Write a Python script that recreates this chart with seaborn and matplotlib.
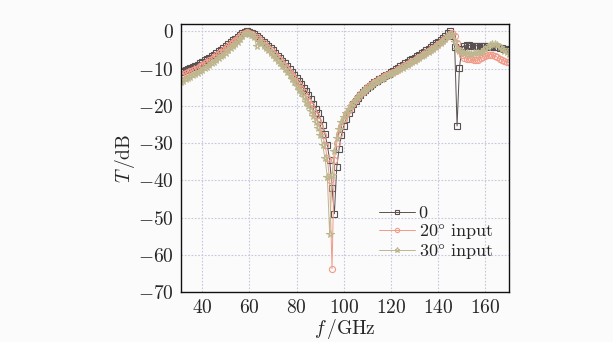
import matplotlib
matplotlib.use("Agg")
import matplotlib.pyplot as plt
import seaborn as sns
import numpy as np
from matplotlib.ticker import MultipleLocator

# frequency axis, GHz (1 GHz step)
freq = list(range(31, 171))

# T (dB) for normal incidence
t_0 = [
    -11.0, -10.7, -10.4, -10.1, -9.8, -9.5, -9.2, -8.9, -8.6, -8.2,
    -7.8, -7.4, -7.0, -6.6, -6.2, -5.8, -5.3, -4.9, -4.4, -3.9,
    -3.4, -2.9, -2.4, -1.9, -1.4, -0.9, -0.5, -0.2, 0.0, -0.1,
    -0.4, -0.8, -1.3, -1.8, -2.3, -2.8, -3.3, -3.9, -4.5, -5.1,
    -5.8, -6.5, -7.2, -7.9, -8.6, -9.3, -10.0, -10.8, -11.6, -12.4,
    -13.3, -14.2, -15.1, -16.1, -17.1, -18.2, -19.4, -20.7, -22.0, -23.4,
    -25.0, -27.5, -30.5, -34.5, -42.0, -49.0, -36.5, -31.5, -27.8, -25.3,
    -23.4, -21.9, -20.7, -19.6, -18.7, -17.9, -17.1, -16.4, -15.8, -15.2,
    -14.6, -14.1, -13.6, -13.2, -12.8, -12.4, -12.0, -11.6, -11.3, -10.9,
    -10.5, -10.2, -9.8, -9.4, -9.0, -8.6, -8.2, -7.8, -7.4, -7.0,
    -6.6, -6.2, -5.8, -5.4, -5.0, -4.6, -4.2, -3.7, -3.2, -2.7,
    -2.2, -1.7, -1.1, -0.5, 0.0, -1.2, -4.2, -25.4, -9.8, -4.6,
    -3.8, -3.7, -3.7, -3.8, -3.8, -3.8, -3.9, -3.9, -3.9, -4.0,
    -4.0, -4.1, -4.1, -4.2, -4.3, -4.4, -4.5, -4.6, -4.8, -5.0,
]

# T (dB) for 20 deg incidence
t_20 = [
    -11.8, -11.5, -11.2, -10.9, -10.6, -10.3, -10.0, -9.7, -9.3, -8.9,
    -8.5, -8.1, -7.7, -7.3, -6.8, -6.4, -5.9, -5.4, -4.9, -4.4,
    -3.9, -3.4, -2.8, -2.3, -1.8, -1.2, -0.7, -0.3, -0.1, -0.3,
    -0.7, -1.1, -1.6, -2.1, -2.7, -3.2, -3.8, -4.4, -5.0, -5.7,
    -6.4, -7.1, -7.8, -8.6, -9.3, -10.1, -10.9, -11.7, -12.6, -13.5,
    -14.4, -15.4, -16.4, -17.5, -18.6, -19.8, -21.1, -22.5, -24.0, -25.7,
    -27.8, -30.5, -34.0, -40.0, -63.7, -34.5, -30.0, -27.5, -25.3, -23.6,
    -22.2, -21.0, -20.0, -19.1, -18.3, -17.5, -16.8, -16.2, -15.6, -15.0,
    -14.5, -14.0, -13.6, -13.2, -12.8, -12.4, -12.1, -11.7, -11.4, -11.1,
    -10.8, -10.5, -10.1, -9.8, -9.4, -9.1, -8.7, -8.3, -7.9, -7.6,
    -7.2, -6.8, -6.4, -6.0, -5.6, -5.2, -4.8, -4.4, -3.9, -3.4,
    -2.9, -2.3, -1.8, -1.2, -0.6, -0.3, -1.2, -3.2, -5.0, -6.2,
    -7.0, -7.3, -7.3, -7.4, -7.6, -7.8, -7.6, -7.2, -6.8, -6.5,
    -6.3, -6.2, -6.3, -6.5, -6.9, -7.3, -7.6, -7.9, -8.1, -8.3,
]

# T (dB) for 30 deg incidence
t_30 = [
    -13.5, -13.2, -12.9, -12.5, -12.2, -11.8, -11.5, -11.1, -10.7, -10.3,
    -9.9, -9.5, -9.1, -8.6, -8.2, -7.7, -7.2, -6.7, -6.2, -5.7,
    -5.1, -4.5, -3.9, -3.3, -2.7, -2.0, -1.3, -0.7, -0.4, -0.6,
    -1.0, -1.5, -4.0, -2.6, -3.2, -3.8, -4.4, -5.0, -5.7, -6.4,
    -7.1, -7.9, -8.6, -9.4, -10.2, -11.0, -11.8, -12.7, -13.6, -14.6,
    -15.6, -16.6, -17.7, -18.9, -20.1, -21.4, -22.8, -24.3, -26.0, -27.8,
    -30.5, -34.0, -39.0, -54.5, -38.5, -32.0, -28.5, -26.2, -24.4, -23.0,
    -21.8, -20.8, -19.9, -19.1, -18.3, -17.6, -17.0, -16.4, -15.8, -15.3,
    -14.8, -14.3, -13.9, -13.5, -13.1, -12.7, -12.4, -12.0, -11.7, -11.4,
    -11.1, -10.7, -10.4, -10.1, -9.7, -9.4, -9.0, -8.6, -8.3, -7.9,
    -7.5, -7.1, -6.7, -6.3, -5.9, -5.5, -5.1, -4.6, -4.1, -3.6,
    -3.1, -2.5, -1.9, -1.3, -0.7, -1.0, -2.8, -4.6, -5.3, -5.6,
    -5.8, -5.9, -6.0, -6.0, -5.9, -5.8, -5.7, -5.5, -5.2, -4.8,
    -4.2, -3.6, -3.3, -3.3, -3.7, -4.2, -4.7, -5.2, -5.6, -6.0,
]

labels = ["0", r"20$\degree$ input", r"30$\degree$ input"]
series = [t_0, t_20, t_30]
colors = ["#5a5050", "#f29a88", "#bdb68e"]
markers = ["s", "o", "*"]
msizes = [4.2, 4.4, 5.4]

sns.set_style("white")
plt.rcParams["font.family"] = "serif"
plt.rcParams["font.serif"] = ["cmr10", "DejaVu Serif"]
plt.rcParams["mathtext.fontset"] = "cm"
plt.rcParams["axes.formatter.use_mathtext"] = True
plt.rcParams["axes.unicode_minus"] = True
plt.rcParams["font.size"] = 14

fig = plt.figure(figsize=(6.13, 3.42), dpi=100, facecolor="#fbfbfb")
ax = fig.add_axes([0.2953, 0.1462, 0.5350, 0.7836])
ax.set_facecolor("#fbfbfb")

for lab, vals, col, mk, ms in zip(labels, series, colors, markers, msizes):
    sns.lineplot(x=freq, y=vals, ax=ax, color=col, marker=mk, markersize=ms,
                 markerfacecolor="none", markeredgecolor=col, markeredgewidth=0.8,
                 linewidth=0.7, label=lab, sort=False)

ax.set_xlim(31, 170)
ax.set_ylim(-70, 2)
ax.set_xticks([40, 60, 80, 100, 120, 140, 160])
ax.set_yticks(np.arange(-70, 1, 10))
ax.xaxis.set_minor_locator(MultipleLocator(10))
ax.yaxis.set_minor_locator(MultipleLocator(5))
ax.tick_params(direction="in", length=3, width=0.8, labelsize=14, pad=5)
ax.tick_params(which="minor", direction="in", length=2, width=0.6)
ax.grid(True, which="major", linestyle=(0, (1.5, 1.5)), color="#c5c8de", linewidth=0.8)

for sp in ax.spines.values():
    sp.set_color("#111111")
    sp.set_linewidth(1.0)

ax.set_xlabel(r"$f\,$/GHz", fontsize=14, labelpad=0)
ax.set_ylabel(r"$T\,$/dB", fontsize=14, labelpad=1)

leg = ax.legend(loc="lower left", bbox_to_anchor=(0.57, 0.075), frameon=False,
                fontsize=13, handlelength=2.0, handletextpad=0.2,
                labelspacing=0.05, borderpad=0.1, markerscale=0.7)

fig.savefig("out.png", dpi=100, facecolor=fig.get_facecolor())
